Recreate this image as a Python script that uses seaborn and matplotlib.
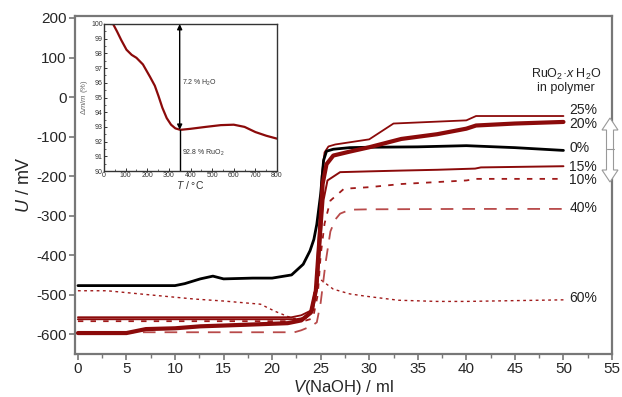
import numpy as np
import pandas as pd
import seaborn as sns
import matplotlib
matplotlib.use("Agg")
import matplotlib.pyplot as plt
from matplotlib.patches import Polygon
from matplotlib.lines import Line2D

# ---------------- data ----------------
# titration curves: V(NaOH) / ml  ->  U / mV
v_0 = [0, 10, 11, 12.6, 13.9, 15, 18, 20, 22, 23.2, 23.9, 24.3, 24.6, 25.0, 25.3, 25.6, 26.3, 28, 30, 35, 40, 45, 50]
u_0 = [-477, -477, -472, -460, -453, -460, -458, -458, -450, -423, -389, -360, -322, -245, -160, -137, -132, -128, -127, -126, -123, -128, -135]

v_25 = [0, 22, 23, 24, 24.5, 24.8, 25.1, 25.4, 25.8, 26.5, 30, 32.5, 40, 41, 50]
u_25 = [-557, -557, -552, -540, -480, -350, -200, -140, -125, -120, -107, -67, -59, -48, -48]

v_20 = [0, 5, 7, 10, 12.6, 15, 19.5, 21.6, 23, 24, 24.5, 24.9, 25.2, 25.6, 26.3, 28, 30, 33.3, 37, 40, 41, 45, 50]
u_20 = [-597, -597, -587, -585, -580, -578, -574, -572, -565, -545, -490, -350, -220, -170, -148, -138, -127, -106, -94, -80, -72, -67, -63]

v_15 = [0, 22.5, 23.5, 24.2, 24.7, 25.0, 25.3, 25.7, 27, 30, 33.3, 37, 40.9, 41.5, 50]
u_15 = [-562, -562, -558, -540, -470, -360, -260, -211, -190, -188, -186, -184, -181, -178, -175]

v_10 = [0, 22.5, 23.5, 24.2, 24.7, 25.0, 25.4, 26, 27.4, 30, 33.3, 40, 41, 50]
u_10 = [-567, -567, -565, -560, -500, -400, -320, -262, -232, -228, -220, -211, -207, -207]

v_40 = [0, 22.3, 23, 24, 24.6, 25.0, 25.5, 26, 26.5, 27, 28, 30, 40, 50]
u_40 = [-595, -595, -590, -580, -570, -520, -420, -340, -310, -295, -285, -284, -283, -283]

v_60 = [0, 3, 6.8, 12, 15, 18.8, 20.3, 22, 23.2, 24.0, 24.5, 25.0, 26.3, 28, 29.7, 33, 37, 40, 45, 50]
u_60 = [-490, -490, -499, -511, -516, -524, -542, -559, -562, -540, -470, -462, -486, -498, -504, -514, -517, -517, -515, -513]

labels = ["25%", "20%", "0%", "15%", "10%", "40%", "60%"]
label_u = [-34, -67, -128, -176, -209, -280, -509]

# thermogravimetric inset: T / °C -> Δm/m (%)
t_tg = [30, 42, 60, 80, 104, 128, 150, 180, 213, 235, 252, 270, 290, 310, 330, 353, 400, 470, 540, 600, 650, 700, 750, 800]
m_tg = [100, 100, 99.5, 98.9, 98.25, 97.9, 97.7, 97.25, 96.4, 95.8, 95.1, 94.3, 93.6, 93.15, 92.9, 92.8, 92.87, 93.0, 93.12, 93.15, 93.0, 92.65, 92.4, 92.2]

# ---------------- style ----------------
sns.set_theme(style="white")
plt.rcParams["font.family"] = ["Liberation Sans", "DejaVu Sans"]
plt.rcParams["axes.unicode_minus"] = False
plt.rcParams["mathtext.fontset"] = "custom"
plt.rcParams["mathtext.rm"] = "Liberation Sans"
plt.rcParams["mathtext.it"] = "Liberation Sans:italic"

DARK = "#8b0a0a"
MID = "#a01a1a"
LIGHT = "#b84a4a"
SPINE = "#777777"

fig = plt.figure(figsize=(6.22, 3.97), dpi=100)
ax = fig.add_axes([75 / 622, 1 - 354 / 397, (612 - 75) / 622, (354 - 16) / 397])

def draw(v, u, **kw):
    df = pd.DataFrame({"V": v, "U": u})
    sns.lineplot(data=df, x="V", y="U", sort=False, estimator=None, ax=ax, **kw)

draw(v_60, u_60, color=MID, lw=1.0, linestyle=(0, (2, 2.5)))
draw(v_40, u_40, color=LIGHT, lw=1.3, linestyle=(0, (7, 5)))
draw(v_10, u_10, color=MID, lw=1.3, linestyle=(0, (3, 4)))
draw(v_15, u_15, color=DARK, lw=1.4)
draw(v_25, u_25, color=DARK, lw=1.3)
draw(v_0, u_0, color="black", lw=2.0)
draw(v_20, u_20, color=DARK, lw=3.0)

ax.set_xlim(-0.3, 55)
ax.set_ylim(-650, 205)
ax.set_xticks(np.arange(0, 56, 5))
ax.set_xticks(np.arange(2.5, 55, 5), minor=True)
ax.set_yticks(np.arange(-600, 201, 100))
ax.tick_params(axis="both", which="major", direction="out", length=4, width=1.2,
               color=SPINE, labelsize=11, pad=2, bottom=True, left=True)
ax.tick_params(axis="x", which="minor", direction="out", length=3, width=1.0,
               color=SPINE, bottom=True)
for s in ax.spines.values():
    s.set_color(SPINE)
    s.set_linewidth(1.6)
ax.set_xlabel("$V$(NaOH) / ml", fontsize=12, labelpad=1)
ax.set_ylabel("$U$ / mV", fontsize=13, labelpad=2)

for lab, u in zip(labels, label_u):
    ax.text(50.6, u, lab, fontsize=10, va="center", ha="left", color="#222222")
ax.text(50.3, 58, "RuO$_2$·$x$ H$_2$O", fontsize=9, ha="center", va="center", color="#222222")
ax.text(50.3, 22, "in polymer", fontsize=9, ha="center", va="center", color="#222222")

# hollow double-headed arrow at right
W, H = 622.0, 397.0
cx = 610
pts_px = [(cx, 118), (cx + 8, 130), (cx + 3.5, 130), (cx + 3.5, 170), (cx + 8, 170),
          (cx, 182), (cx - 8, 170), (cx - 3.5, 170), (cx - 3.5, 130), (cx - 8, 130)]
pts = [(x / W, 1 - y / H) for x, y in pts_px]
fig.patches.append(Polygon(pts, closed=True, facecolor="white", edgecolor="#999999",
                           lw=0.8, transform=fig.transFigure, zorder=5))
fig.lines.append(Line2D([(cx - 3.5) / W, (cx + 3.5) / W], [1 - 149 / H, 1 - 149 / H],
                        color="#999999", lw=0.8, transform=fig.transFigure, zorder=6))

# ---------------- inset ----------------
ins = fig.add_axes([104 / 622, 1 - 171 / 397, (277 - 104) / 622, (171 - 24) / 397])
sns.lineplot(data=pd.DataFrame({"T": t_tg, "m": m_tg}), x="T", y="m", sort=False,
             estimator=None, ax=ins, color=DARK, lw=1.6)
ins.set_xlim(0, 800)
ins.set_ylim(90, 100)
ins.set_xticks(np.arange(0, 801, 100))
ins.set_xticks(np.arange(50, 800, 100), minor=True)
ins.set_yticks(np.arange(90, 101, 1))
ins.set_yticks(np.arange(90.5, 100, 1), minor=True)
ins.tick_params(axis="both", which="major", direction="in", length=2.5, width=0.7,
                labelsize=5, pad=1, colors="#333333", bottom=True, left=True)
ins.tick_params(axis="both", which="minor", direction="in", length=1.5, width=0.5,
                bottom=True, left=True)
for s in ins.spines.values():
    s.set_color("#333333")
    s.set_linewidth(1.0)
ins.set_xlabel("$T$ / °C", fontsize=7.5, labelpad=0, color="#333333")
ins.set_ylabel("Δ$m$/$m$ (%)", fontsize=5.5, labelpad=1, color="#666666")
ins.plot([350, 350], [90, 92.8], color="black", lw=1.0)
ins.annotate("", xy=(350, 100), xytext=(350, 92.8),
             arrowprops=dict(arrowstyle="<|-|>,head_length=0.25,head_width=0.12",
                             color="black", lw=1.0, shrinkA=0, shrinkB=0))
ins.text(362, 96.0, "7.2 % H$_2$O", fontsize=5, ha="left", va="center", color="#333333")
ins.text(362, 91.2, "92.8 % RuO$_2$", fontsize=5, ha="left", va="center", color="#333333")

fig.savefig("out.png", dpi=100)
